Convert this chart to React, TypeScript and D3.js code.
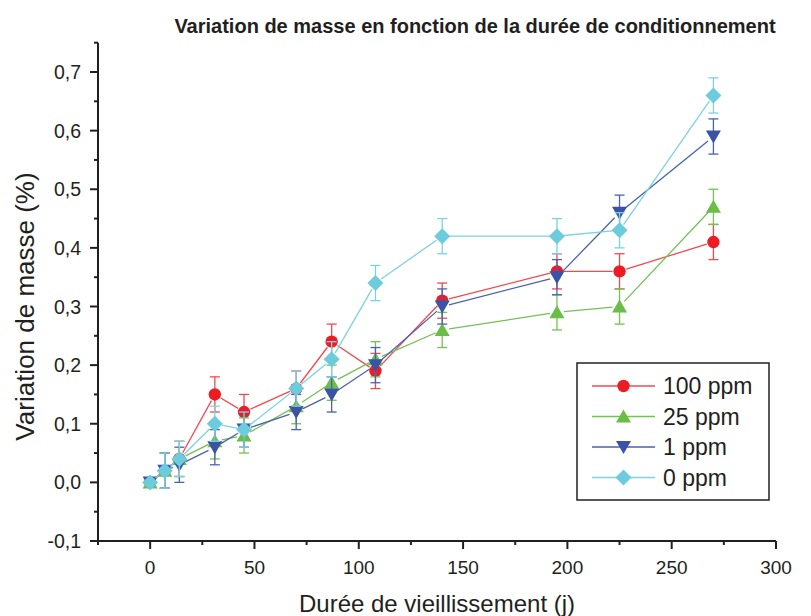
import React from "react";
import * as d3 from "d3";

const days = [0, 7, 14, 31, 45, 70, 87, 108, 140, 195, 225, 270];
const ppm100 = [0, 0.02, 0.04, 0.15, 0.12, 0.16, 0.24, 0.19, 0.31, 0.36, 0.36, 0.41];
const ppm25 = [0, 0.02, 0.04, 0.07, 0.08, 0.13, 0.17, 0.21, 0.26, 0.29, 0.3, 0.47];
const ppm1 = [0, 0.02, 0.03, 0.06, 0.09, 0.12, 0.15, 0.2, 0.3, 0.35, 0.46, 0.59];
const ppm0 = [0, 0.02, 0.04, 0.1, 0.09, 0.16, 0.21, 0.34, 0.42, 0.42, 0.43, 0.66];
const errs = [0, 0.03, 0.03, 0.03, 0.03, 0.03, 0.03, 0.03, 0.03, 0.03, 0.03, 0.03];
const seriesNames = ["100 ppm", "25 ppm", "1 ppm", "0 ppm"];
const xTicks = [0, 50, 100, 150, 200, 250, 300];
const xMinor = [-25, 25, 75, 125, 175, 225, 275];
const yTicks = [-0.1, 0, 0.1, 0.2, 0.3, 0.4, 0.5, 0.6, 0.7];
const yMinor = [-0.05, 0.05, 0.15, 0.25, 0.35, 0.45, 0.55, 0.65, 0.75];

const W = 811, H = 616;
const M = { left: 98, right: 776, top: 72, bottom: 541 };
const x = d3.scaleLinear().domain([-25, 300]).range([M.left, M.right]);
const y = d3.scaleLinear().domain([-0.1, 0.7]).range([M.bottom, M.top]);

const series = [
  { name: seriesNames[0], values: ppm100, color: "#ED1C24", line: "#EF4A50", shape: "circle" },
  { name: seriesNames[1], values: ppm25, color: "#6ABD45", line: "#74C255", shape: "up" },
  { name: seriesNames[2], values: ppm1, color: "#3A53A4", line: "#4A62AE", shape: "down" },
  { name: seriesNames[3], values: ppm0, color: "#6CCBDC", line: "#7FD1E0", shape: "diamond" },
];

const AX = "#231F20";
const FONT = "'Liberation Sans', Arial, sans-serif";
const fmt = (v: number) => d3.format(".1f")(v).replace("−", "-").replace(".", ",");

function Marker({ shape, cx, cy, color }: { shape: string; cx: number; cy: number; color: string }) {
  if (shape === "circle") return <circle cx={cx} cy={cy} r={6.2} fill={color} />;
  if (shape === "up")
    return <path d={`M${cx},${cy - 7}L${cx + 7.5},${cy + 6}L${cx - 7.5},${cy + 6}Z`} fill={color} />;
  if (shape === "down")
    return <path d={`M${cx},${cy + 7}L${cx + 7.5},${cy - 6}L${cx - 7.5},${cy - 6}Z`} fill={color} />;
  return <path d={`M${cx},${cy - 8}L${cx + 8},${cy}L${cx},${cy + 8}L${cx - 8},${cy}Z`} fill={color} />;
}

export default function App() {
  const gap = 7;
  return (
    <svg width={W} height={H} style={{ position: "absolute", left: 0, top: 0, background: "#fff" }}>
      <rect width={W} height={H} fill="#fff" />
      <text x={475} y={33} textAnchor="middle" fontFamily={FONT} fontWeight="bold" fontSize={20} fill={AX}>
        Variation de masse en fonction de la durée de conditionnement
      </text>
      {/* axes */}
      <line x1={M.left} x2={M.left} y1={y(0.75)} y2={M.bottom + 1} stroke={AX} strokeWidth={2} />
      <line x1={M.left - 1} x2={M.right} y1={M.bottom} y2={M.bottom} stroke={AX} strokeWidth={2} />
      {xTicks.map((t) => (
        <g key={"xt" + t}>
          <line x1={x(t)} x2={x(t)} y1={M.bottom} y2={M.bottom + 8} stroke={AX} strokeWidth={2} />
          <text x={x(t)} y={M.bottom + 33} textAnchor="middle" fontFamily={FONT} fontSize={19} fill={AX}>
            {t}
          </text>
        </g>
      ))}
      {xMinor.map((t) => (
        <line key={"xm" + t} x1={x(t)} x2={x(t)} y1={M.bottom} y2={M.bottom + 4} stroke={AX} strokeWidth={2} />
      ))}
      {yTicks.map((t) => (
        <g key={"yt" + t}>
          <line x1={M.left - 8} x2={M.left} y1={y(t)} y2={y(t)} stroke={AX} strokeWidth={2} />
          <text x={M.left - 17} y={y(t) + 7} textAnchor="end" fontFamily={FONT} fontSize={19.5} fill={AX}>
            {fmt(t)}
          </text>
        </g>
      ))}
      {yMinor.map((t) => (
        <line key={"ym" + t} x1={M.left - 4} x2={M.left} y1={y(t)} y2={y(t)} stroke={AX} strokeWidth={2} />
      ))}
      <text x={437} y={612} textAnchor="middle" fontFamily={FONT} fontSize={24} fill={AX}>
        Durée de vieillissement (j)
      </text>
      <text
        transform={`translate(34,${(M.top + M.bottom) / 2}) rotate(-90)`}
        textAnchor="middle"
        fontFamily={FONT}
        fontSize={26}
        fill={AX}
      >
        Variation de masse (%)
      </text>
      {/* data */}
      {series.map((s) => (
        <g key={s.name}>
          {s.values.slice(1).map((v, i) => {
            const x1 = x(days[i]), y1 = y(s.values[i]);
            const x2 = x(days[i + 1]), y2 = y(v);
            const len = Math.hypot(x2 - x1, y2 - y1);
            if (len <= 2 * gap) return null;
            const ux = (x2 - x1) / len, uy = (y2 - y1) / len;
            return (
              <line
                key={i}
                x1={x1 + ux * gap}
                y1={y1 + uy * gap}
                x2={x2 - ux * gap}
                y2={y2 - uy * gap}
                stroke={s.line}
                strokeWidth={1.3}
              />
            );
          })}
          {s.values.map((v, i) =>
            errs[i] > 0 ? (
              <g key={"e" + i} stroke={s.line} strokeWidth={1.3}>
                <line x1={x(days[i])} x2={x(days[i])} y1={y(v - errs[i])} y2={y(v + errs[i])} />
                <line x1={x(days[i]) - 5} x2={x(days[i]) + 5} y1={y(v - errs[i])} y2={y(v - errs[i])} />
                <line x1={x(days[i]) - 5} x2={x(days[i]) + 5} y1={y(v + errs[i])} y2={y(v + errs[i])} />
              </g>
            ) : null
          )}
          {s.values.map((v, i) => (
            <Marker key={"m" + i} shape={s.shape} cx={x(days[i])} cy={y(v)} color={s.color} />
          ))}
        </g>
      ))}
      {/* legend */}
      <rect x={577} y={363} width={192} height={137} fill="#fff" stroke={AX} strokeWidth={1.5} />
      {series.map((s, i) => {
        const ly = 386 + i * 30.5;
        return (
          <g key={"lg" + s.name}>
            <line x1={592} x2={655} y1={ly} y2={ly} stroke={s.line} strokeWidth={1.3} />
            <Marker shape={s.shape} cx={623.5} cy={ly} color={s.color} />
            <text x={663} y={ly + 8} fontFamily={FONT} fontSize={23} fill={AX}>
              {s.name}
            </text>
          </g>
        );
      })}
    </svg>
  );
}
